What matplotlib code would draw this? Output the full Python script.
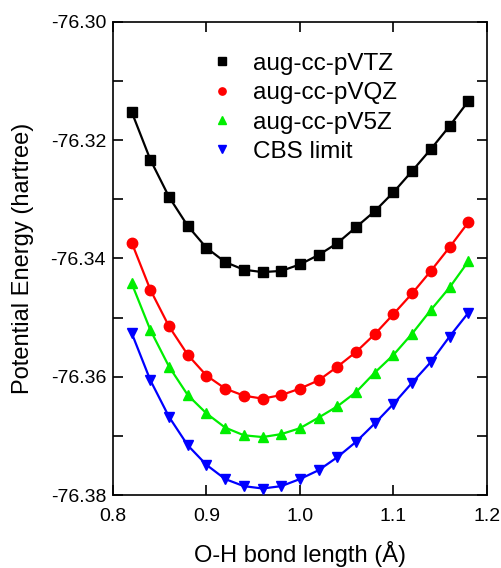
import matplotlib
matplotlib.use("Agg")
import matplotlib.pyplot as plt
from matplotlib.ticker import MultipleLocator, FormatStrFormatter

plt.rcParams['font.family'] = ['Liberation Sans', 'DejaVu Sans']
plt.rcParams['axes.unicode_minus'] = False

bond_length = [0.82, 0.84, 0.86, 0.88, 0.90, 0.92, 0.94, 0.96, 0.98, 1.00,
               1.02, 1.04, 1.06, 1.08, 1.10, 1.12, 1.14, 1.16, 1.18]

vtz = [-76.3152, -76.3233, -76.3296, -76.3345, -76.3382, -76.3406, -76.3419, -76.3423,
       -76.3421, -76.3410, -76.3394, -76.3374, -76.3347, -76.3320, -76.3288, -76.3252,
       -76.3215, -76.3176, -76.3134]
vqz = [-76.3373, -76.3453, -76.3515, -76.3563, -76.3598, -76.3620, -76.3632, -76.3637,
       -76.3631, -76.3620, -76.3606, -76.3583, -76.3558, -76.3528, -76.3494, -76.3459,
       -76.3421, -76.3381, -76.3339]
v5z = [-76.3442, -76.3521, -76.3583, -76.3631, -76.3662, -76.3686, -76.3699, -76.3702,
       -76.3697, -76.3687, -76.3669, -76.3650, -76.3626, -76.3593, -76.3563, -76.3527,
       -76.3487, -76.3449, -76.3405]
cbs = [-76.3526, -76.3606, -76.3668, -76.3716, -76.3749, -76.3773, -76.3785, -76.3789,
       -76.3785, -76.3773, -76.3758, -76.3736, -76.3710, -76.3679, -76.3646, -76.3610,
       -76.3575, -76.3532, -76.3492]

series = [
    ("aug-cc-pVTZ", vtz, "#000000", "s"),
    ("aug-cc-pVQZ", vqz, "#ff0000", "o"),
    ("aug-cc-pV5Z", v5z, "#00ee00", "^"),
    ("CBS limit", cbs, "#0000ff", "v"),
]

fig = plt.figure(figsize=(5.01, 5.68), dpi=100)
ax = fig.add_axes([0.2255, 0.1285, 0.7465, 0.8328])

for label, vals, color, marker in series:
    ax.plot(bond_length, vals, color=color, lw=1.6, zorder=2)
    ax.plot(bond_length, vals, linestyle='none', marker=marker, color=color,
            markersize=7.5, label=label, zorder=3)

ax.set_xlim(0.8, 1.2)
ax.set_ylim(-76.38, -76.30)
ax.xaxis.set_major_locator(MultipleLocator(0.1))
ax.xaxis.set_major_formatter(FormatStrFormatter('%.1f'))
ax.yaxis.set_major_locator(MultipleLocator(0.02))
ax.yaxis.set_minor_locator(MultipleLocator(0.01))
ax.yaxis.set_major_formatter(FormatStrFormatter('%.2f'))
ax.tick_params(which='both', direction='in', top=True, right=True,
               length=7, width=1.2, labelsize=14, pad=5)
ax.tick_params(axis='x', pad=9)
for s in ax.spines.values():
    s.set_linewidth(1.2)

ax.set_xlabel("O-H bond length (Å)", fontsize=17, labelpad=12)
ax.set_ylabel("Potential Energy (hartree)", fontsize=17, labelpad=12)

leg = ax.legend(loc='upper left', bbox_to_anchor=(0.24, 0.955), frameon=False,
                fontsize=17.5, markerscale=0.7, handlelength=0.8, handletextpad=0.85,
                labelspacing=0.3, borderaxespad=0)

fig.savefig("out.png", dpi=100)
